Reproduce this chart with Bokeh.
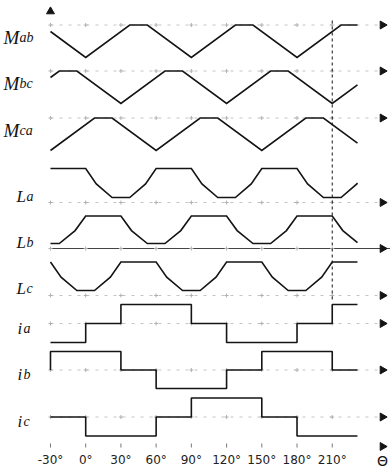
import math
from bokeh.plotting import figure
from bokeh.models import Range1d
from bokeh.core.properties import value
from bokeh.embed import file_html
from bokeh.resources import INLINE

W, H = 390, 471

# angle axis: tick positions (degrees) and their labels
tick_deg = [-30, 0, 30, 60, 90, 120, 150, 180, 210]
tick_labels = ["-30°", "0°", "30°", "60°", "90°", "120°", "150°", "180°", "210°"]

# mutual inductances (normalised 0..1)
mab_deg = [-30, 0, 37.5, 52.5, 90, 127.5, 142.5, 180, 217.5, 231.5]
mab_lvl = [0.8, 0, 1, 1, 0, 1, 1, 0, 1, 1]
mbc_deg = [-30, -22.5, -7.5, 30, 67.5, 82.5, 120, 157.5, 172.5, 210, 231.5]
mbc_lvl = [0.8, 1, 1, 0, 1, 1, 0, 1, 1, 0, 0.57]
mca_deg = [-30, 7.5, 22.5, 60, 97.5, 112.5, 150, 187.5, 202.5, 231.5]
mca_lvl = [0, 1, 1, 0, 1, 1, 0, 1, 1, 0.23]

# self inductances (normalised 0..1)
la_deg = [-30, 0, 9, 22.5, 37.5, 51, 60, 90, 99, 112.5, 127.5, 141, 150,
          180, 189, 202.5, 217.5, 231, 231.5]
la_lvl = [1, 1, .47, 0, 0, .47, 1, 1, .47, 0, 0, .47, 1, 1, .47, 0, 0, .47, .5]
lb_deg = [-30, -22.5, -9, 0, 30, 39, 52.5, 67.5, 81, 90, 120, 129, 142.5,
          157.5, 171, 180, 210, 219, 231.5]
lb_lvl = [0, 0, .47, 1, 1, .47, 0, 0, .47, 1, 1, .47, 0, 0, .47, 1, 1, .47, .03]
lc_deg = [-30, -21, -7.5, 7.5, 21, 30, 60, 69, 82.5, 97.5, 111, 120, 150,
          159, 172.5, 187.5, 201, 210, 231.5]
lc_lvl = [1, .47, 0, 0, .47, 1, 1, .47, 0, 0, .47, 1, 1, .47, 0, 0, .47, 1, 1]

# phase currents (six-step, -1/0/+1), value holds until next angle
ia_deg = [-30, 0, 30, 90, 120, 180, 210, 231.5]
ia_lvl = [-1, 0, 1, 0, -1, 0, 1, 1]
ib_deg = [-30, -30, 30, 60, 120, 150, 210, 231.5]
ib_lvl = [0, 1, 0, -1, 0, 1, 0, 0]
ic_deg = [-30, 0, 60, 90, 150, 180, 231.5]
ic_lvl = [0, -1, 0, 1, 0, -1, -1]

# layout: horizontal scale (px per degree, px position of 0°)
PX_PER_DEG = 1.174
ORIGIN_PX = 85.2


def px2deg(px):
    return (px - ORIGIN_PX) / PX_PER_DEG


p = figure(width=W, height=H, output_backend="svg", toolbar_location=None,
           x_range=Range1d(px2deg(0), px2deg(W)), y_range=Range1d(H, 0),
           min_border=0, min_border_left=0, min_border_right=0,
           min_border_top=0, min_border_bottom=0)
p.axis.visible = False
p.grid.visible = False
p.outline_line_color = None
p.background_fill_color = "white"
p.border_fill_color = "white"

INK = "#141414"
SERIF = value("Liberation Serif")

# rows: (main letter, subscript, degrees, levels, kind, zero-level y, amplitude,
#        reference-line y, label x, subscript x, label baseline, font sizes)
rows = [
    ("M", "ab", mab_deg, mab_lvl, "line", 57, 32.5, 24.5, 3, 19, 37, 19, 14),
    ("M", "bc", mbc_deg, mbc_lvl, "line", 103, 32.5, 70.5, 3, 19, 83, 19, 14),
    ("M", "ca", mca_deg, mca_lvl, "line", 150, 32.5, 117.5, 3, 19, 130, 19, 14),
    ("L", "a", la_deg, la_lvl, "line", 197, 29, 202, 16, 26, 196, 17, 14),
    ("L", "b", lb_deg, lb_lvl, "line", 243, 27.5, 248, 16, 26, 242, 17, 14),
    ("L", "c", lc_deg, lc_lvl, "line", 290, 28.5, 295, 16, 26, 288, 17, 14),
    ("i", "a", ia_deg, ia_lvl, "step", 323, 19, 323, 17, 23, 328, 17, 14),
    ("i", "b", ib_deg, ib_lvl, "step", 369.5, 18.5, 369.5, 17, 23, 374, 17, 14),
    ("i", "c", ic_deg, ic_lvl, "step", 416.5, 19, 416.5, 17, 23, 421, 17, 14),
]

ARROW_X = px2deg(382)
LINE_END = px2deg(390)

for main, sub, degs, lvls, kind, zero_y, amp, ref_y, lx, sx, ly, fs, ss in rows:
    # reference line of the row
    solid = (main == "L" and sub == "b")
    p.segment(x0=[-30], y0=[ref_y], x1=[LINE_END], y1=[ref_y],
              line_color="#444444" if solid else "#c4c4c4",
              line_width=1, line_dash="solid" if solid else "3 6")
    # small tick crosses along the reference line
    p.scatter(x=tick_deg, y=[ref_y] * len(tick_deg), marker="cross", size=4,
              line_color="#b0b0b0", line_width=1)
    # arrow at right end
    p.scatter(x=[ARROW_X], y=[ref_y], marker="triangle", size=8, angle=-math.pi / 2,
              fill_color=INK, line_color=INK)

    ys = [zero_y - amp * v for v in lvls]
    if kind == "step":
        p.step(x=degs, y=ys, mode="after", line_color=INK, line_width=1.6)
    else:
        p.line(x=degs, y=ys, line_color=INK, line_width=1.6, line_join="miter")

    p.text(x=[px2deg(lx)], y=[ly], text=[main], text_font=SERIF,
           text_font_style="italic", text_font_size=f"{fs}px",
           text_baseline="alphabetic", text_align="left", text_color=INK)
    p.text(x=[px2deg(sx)], y=[ly], text=[sub], text_font=SERIF,
           text_font_style="italic", text_font_size=f"{ss}px",
           text_baseline="alphabetic", text_align="left", text_color=INK)

# marker line at 210°
p.segment(x0=[210], y0=[20], x1=[210], y1=[300], line_color=INK,
          line_width=1, line_dash="3 3")

# vertical axis arrow head
p.scatter(x=[-30], y=[11], marker="triangle", size=8, fill_color=INK, line_color=INK)

# angle axis: ticks, labels, arrow and symbol
AXIS_Y = 446
p.segment(x0=tick_deg, y0=[AXIS_Y - 3] * len(tick_deg), x1=tick_deg,
          y1=[AXIS_Y + 1] * len(tick_deg), line_color="#777777", line_width=1)
p.scatter(x=[ARROW_X], y=[AXIS_Y], marker="triangle", size=8, angle=-math.pi / 2,
          fill_color=INK, line_color=INK)
p.text(x=tick_deg, y=[459] * len(tick_deg), text=tick_labels,
       text_font=value("DejaVu Sans"), text_font_size="12px",
       text_baseline="middle", text_align="center", text_color="#222222")
p.text(x=[px2deg(382)], y=[460], text=["Θ"], text_font=value("DejaVu Sans"),
       text_font_size="14px", text_baseline="middle", text_align="center",
       text_color=INK)

open("out.html", "w").write(file_html(p, INLINE))
